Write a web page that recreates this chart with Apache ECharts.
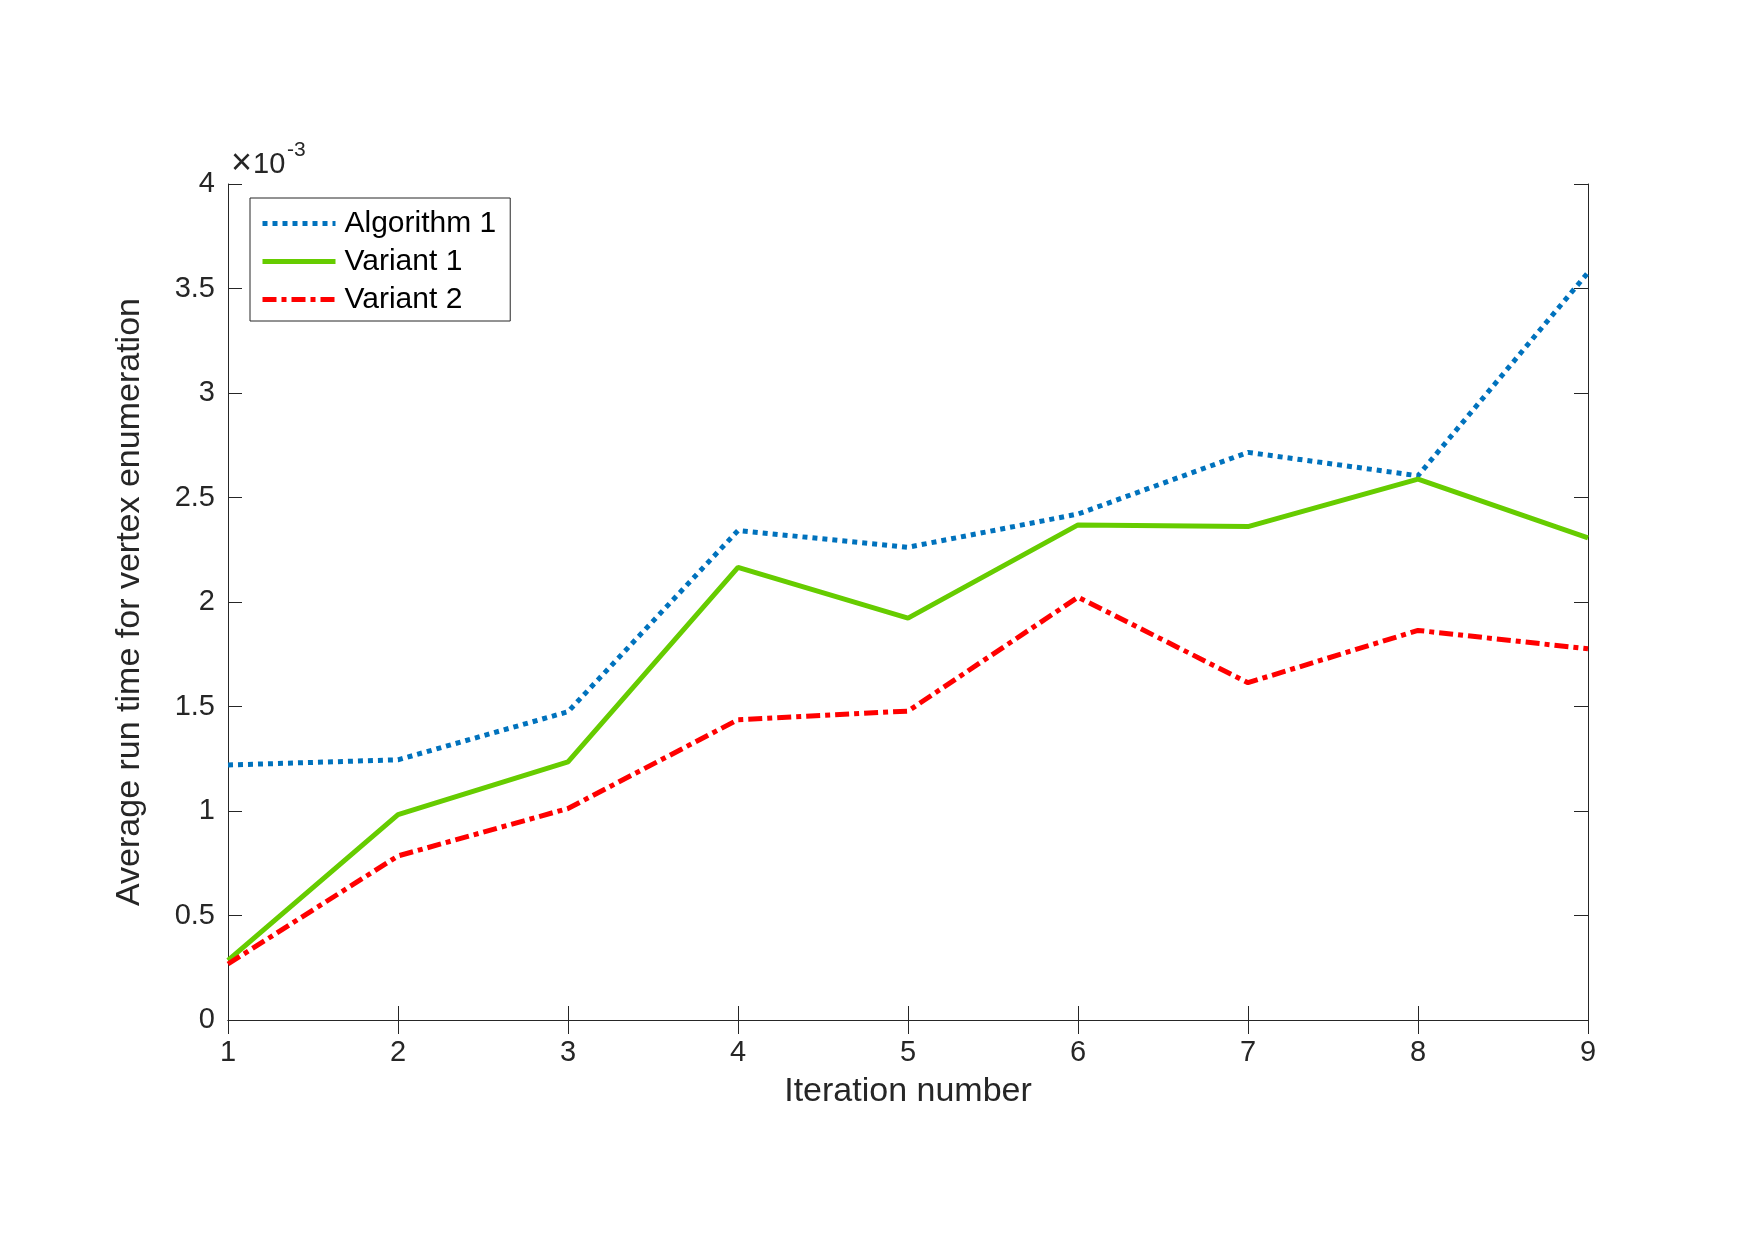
<!DOCTYPE html>
<html>
<head>
<meta charset="utf-8">
<title>Average run time for vertex enumeration</title>
<script src="https://cdn.jsdelivr.net/npm/echarts@6/dist/echarts.min.js"></script>
<style>
  html, body { margin: 0; padding: 0; background: #fff; }
  #chart { width: 1755px; height: 1240px; }
</style>
</head>
<body>
<div id="chart"></div>
<script>
// values are in units of 1e-3 (the axis carries the x10^-3 multiplier)
const iterations = ['1', '2', '3', '4', '5', '6', '7', '8', '9']
const algorithm1 = [1.22, 1.245, 1.475, 2.342, 2.262, 2.421, 2.716, 2.604, 3.576]
const variant1 = [0.285, 0.983, 1.235, 2.166, 1.923, 2.369, 2.361, 2.588, 2.307]
const variant2 = [0.268, 0.785, 1.012, 1.437, 1.478, 2.023, 1.614, 1.864, 1.776]
const yTicks = [0, 0.5, 1, 1.5, 2, 2.5, 3, 3.5, 4]

const font = 'Liberation Sans, Arial, Helvetica, sans-serif'
const axisColor = '#262626'

const chart = echarts.init(document.getElementById('chart'), null, { renderer: 'canvas' })

const tickFmt = (v) => {
  const r = Math.round(v * 10) / 10
  return yTicks.indexOf(r) >= 0 ? String(r) : ''
}

const option = {
  backgroundColor: '#ffffff',
  animation: false,
  textStyle: { fontFamily: font, color: axisColor },
  grid: { left: 228, top: 184, width: 1360, height: 836, containLabel: false },
  graphic: [
    {
      type: 'text', left: 231, top: 146,
      style: { text: '×', font: '36px ' + font, fill: axisColor }
    },
    {
      type: 'text', left: 253, top: 150,
      style: { text: '10', font: '29px ' + font, fill: axisColor }
    },
    {
      type: 'text', left: 287, top: 140,
      style: { text: '-3', font: '21px ' + font, fill: axisColor }
    }
  ],
  legend: {
    orient: 'vertical',
    left: 250,
    top: 198,
    backgroundColor: '#fff',
    borderColor: axisColor,
    borderWidth: 1,
    borderRadius: 0,
    padding: [10, 14, 6, 10],
    itemWidth: 73,
    itemHeight: 0.1,
    itemGap: 7,
    itemStyle: { opacity: 0 },
    lineStyle: { width: 5 },
    textStyle: { fontSize: 30, lineHeight: 31, fontFamily: font, color: '#000', padding: [0, 0, 0, 4] },
    data: ['Algorithm 1', 'Variant 1', 'Variant 2']
  },
  xAxis: [
    {
      type: 'category',
      data: iterations,
      boundaryGap: false,
      name: 'Iteration number',
      nameLocation: 'middle',
      nameGap: 55,
      nameTextStyle: { fontSize: 34, fontFamily: font, color: axisColor },
      axisLine: { show: true, lineStyle: { color: axisColor, width: 1 } },
      axisTick: { show: true, inside: true, length: 14, lineStyle: { color: axisColor } },
      axisLabel: { fontSize: 29, margin: 18, color: axisColor, fontFamily: font },
      splitLine: { show: false }
    },
    {
      type: 'category',
      data: iterations,
      boundaryGap: false,
      position: 'top',
      axisLine: { show: true, lineStyle: { color: axisColor, width: 1 } },
      axisTick: { show: true, inside: true, length: 14, lineStyle: { color: axisColor } },
      axisLabel: { show: false },
      splitLine: { show: false }
    }
  ],
  yAxis: [
    {
      type: 'value',
      min: 0,
      max: 4,
      interval: 0.5,
      name: 'Average run time for vertex enumeration',
      nameLocation: 'middle',
      nameGap: 81,
      nameTextStyle: { fontSize: 34, fontFamily: font, color: axisColor },
      axisLine: { show: true, lineStyle: { color: axisColor, width: 1 } },
      axisTick: { show: true, inside: true, length: 14, lineStyle: { color: axisColor } },
      axisLabel: { fontSize: 29, margin: 13, color: axisColor, fontFamily: font, formatter: tickFmt },
      splitLine: { show: false }
    },
    {
      type: 'value',
      min: 0,
      max: 4,
      interval: 0.5,
      position: 'right',
      axisLine: { show: true, lineStyle: { color: axisColor, width: 1 } },
      axisTick: { show: true, inside: true, length: 14, lineStyle: { color: axisColor } },
      axisLabel: { show: false },
      splitLine: { show: false }
    }
  ],
  series: [
    {
      name: 'Algorithm 1',
      type: 'line',
      data: algorithm1,
      symbol: 'none',
      color: '#0072BD',
      lineStyle: { width: 5, type: [5, 5], cap: 'butt' }
    },
    {
      name: 'Variant 1',
      type: 'line',
      data: variant1,
      symbol: 'none',
      color: '#66CC00',
      lineStyle: { width: 5, type: 'solid' }
    },
    {
      name: 'Variant 2',
      type: 'line',
      data: variant2,
      symbol: 'none',
      color: '#FF0000',
      lineStyle: { width: 5, type: [14, 5, 5, 5], cap: 'butt' }
    }
  ]
}

chart.setOption(option)
window.addEventListener('resize', () => chart.resize())
</script>
</body>
</html>
